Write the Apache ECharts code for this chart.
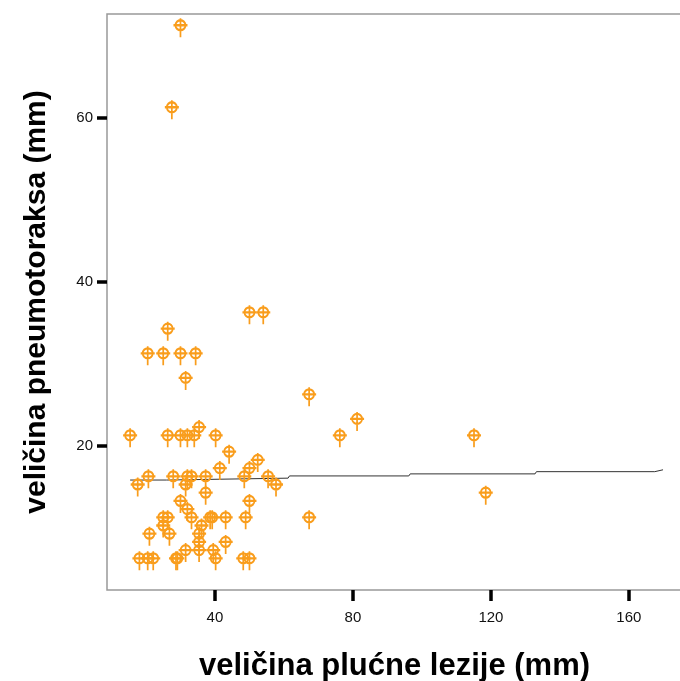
<!DOCTYPE html>
<html>
<head>
<meta charset="utf-8">
<script src="https://cdn.jsdelivr.net/npm/echarts@6/dist/echarts.min.js"></script>
<style>
html,body{margin:0;padding:0;background:#fff;}
#c{width:680px;height:681px;}
</style>
</head>
<body>
<div id="c"></div>
<script>
// size of lung lesion (mm)
const lesionSize = [30,27.5,50,54,26.3,20.5,25,30,34.4,31.5,
  15.4,26.3,30,32,34,35.4,40.2,44.1,52.4,50,41.4,48.5,37.3,55.4,57.7,37.3,50,
  20.7,17.6,27.9,32,33.2,31.5,30,32,33.2,25,26.3,25,26.8,21,36.1,38.6,39.2,43.1,48.9,
  35.4,35.4,43.1,31.5,35.4,39.5,18.1,20.5,22.1,28.7,29.1,40.2,48.2,50,
  67.3,81.2,76.2,115.1,118.5,67.3];
// size of pneumothorax (mm)
const pneumoSize = [71,61,36,36,34,31,31,31,31,28,
  21,21,21,21,21,22,21,19,18,17,17,16,16,16,15,14,13,
  16,15,16,16,16,15,13,12,11,11,11,10,9,9,10,11,11,11,11,
  9,8,8,7,7,7,6,6,6,6,6,6,6,6,
  26,23,21,21,14,11];
// fit line
const fitX = [15.4,26,26.4,61.2,61.6,96.2,96.6,132.8,133.2,167.5,168,169.9];
const fitY = [15.85,15.85,16.08,16.08,16.35,16.35,16.6,16.6,16.87,16.87,17.1,17.1];
const xTicks = [40,80,120,160];
const yTicks = [20,40,60];
const xTitle = 'veličina plućne lezije (mm)';
const yTitle = 'veličina pneumotoraksa (mm)';

const points = lesionSize.map((x,i)=>[x,pneumoSize[i]]);
const fit = fitX.map((x,i)=>[x,fitY[i]]);

const marker = 'path://M-7 0L7 0M0 -7L0 12M5 0A5 5 0 1 1 -5 0A5 5 0 1 1 5 0';
const chart = echarts.init(document.getElementById('c'));
chart.setOption({
  animation:false,
  backgroundColor:'#fff',
  grid:{left:107,top:14,right:-2,bottom:91,show:true,borderColor:'#999',borderWidth:1.5,backgroundColor:'transparent',outerBoundsMode:'none',containLabel:false},
  xAxis:{type:'value',min:8.7,max:175.4,
    name:xTitle,nameLocation:'middle',nameGap:61,
    nameTextStyle:{fontFamily:'Liberation Sans',fontWeight:'bold',fontSize:31,color:'#000'},
    axisLine:{show:false},splitLine:{show:false},
    axisTick:{show:true,customValues:xTicks,length:11,lineStyle:{color:'#000',width:3.5}},
    axisLabel:{customValues:xTicks,margin:20,fontFamily:'Liberation Sans',fontSize:15,color:'#111'}},
  yAxis:{type:'value',min:2.44,max:72.68,
    name:yTitle,nameLocation:'middle',nameGap:55,nameRotate:90,
    nameTextStyle:{fontFamily:'Liberation Sans',fontWeight:'bold',fontSize:30,color:'#000'},
    axisLine:{show:false},splitLine:{show:false},
    axisTick:{show:true,customValues:yTicks,length:10,lineStyle:{color:'#000',width:3.5}},
    axisLabel:{customValues:yTicks,margin:14,fontFamily:'Liberation Sans',fontSize:15,color:'#111'}},
  series:[
    {type:'line',data:fit,showSymbol:false,symbol:'none',lineStyle:{color:'#333',width:1},z:1},
    {type:'scatter',data:points,symbol:marker,symbolSize:[14,19],
      itemStyle:{color:'rgba(0,0,0,0)',borderColor:'#F99D1C',borderWidth:2,opacity:1},z:2}
  ]
});
</script>
</body>
</html>
